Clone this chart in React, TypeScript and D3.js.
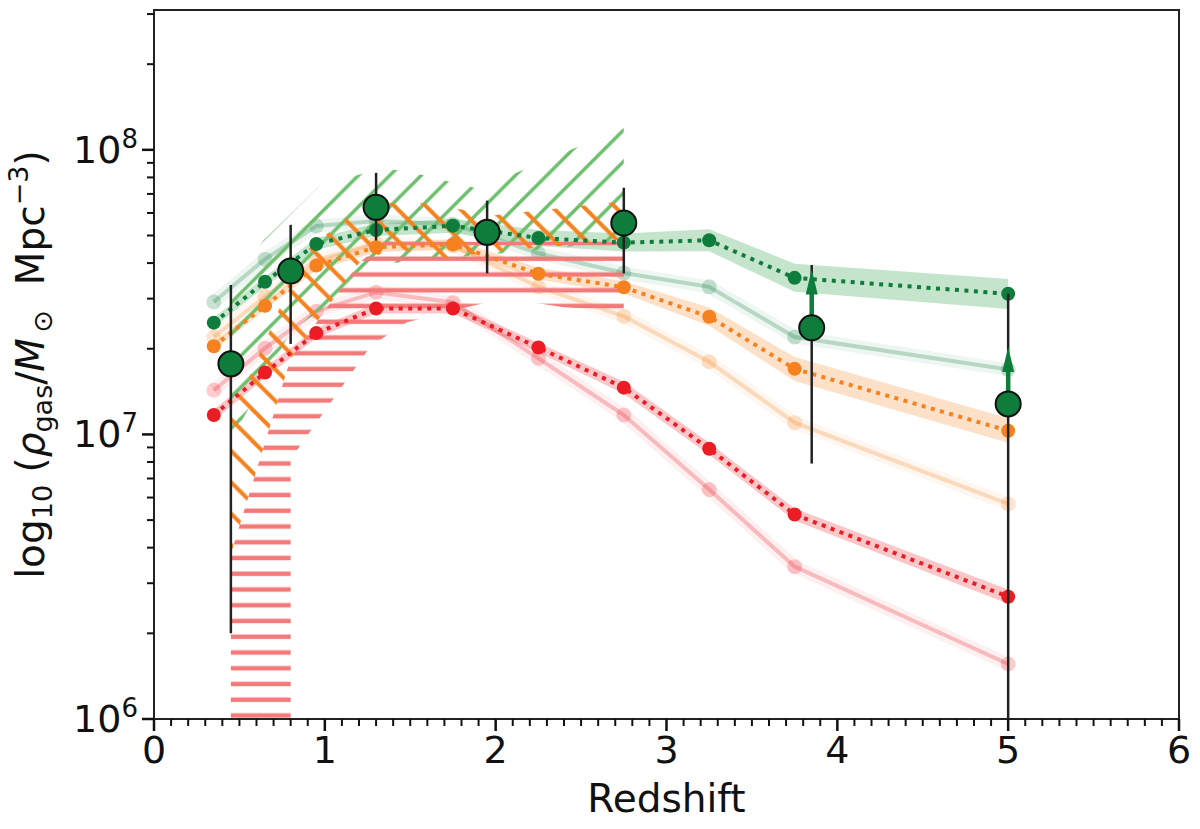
import * as d3 from "d3"

// redshift grid of the model runs
const zModel = [0.35, 0.65, 0.95, 1.3, 1.75, 2.25, 2.75, 3.25, 3.75, 5.0]

// main (dotted) model series with their shaded bands
const rhoGreen = [2.47e7, 3.44e7, 4.67e7, 5.23e7, 5.41e7, 4.9e7, 4.72e7, 4.81e7, 3.55e7, 3.12e7]
const rhoGreenHi = [2.57e7, 3.58e7, 4.9e7, 5.5e7, 5.72e7, 5.23e7, 5.08e7, 5.26e7, 3.98e7, 3.52e7]
const rhoGreenLo = [2.37e7, 3.3e7, 4.45e7, 4.98e7, 5.11e7, 4.59e7, 4.39e7, 4.4e7, 3.17e7, 2.76e7]

const rhoOrange = [2.04e7, 2.83e7, 3.92e7, 4.55e7, 4.65e7, 3.67e7, 3.29e7, 2.59e7, 1.7e7, 1.03e7]
const rhoOrangeHi = [2.11e7, 2.92e7, 4.08e7, 4.74e7, 4.84e7, 3.85e7, 3.45e7, 2.79e7, 1.87e7, 1.14e7]
const rhoOrangeLo = [1.97e7, 2.74e7, 3.77e7, 4.37e7, 4.47e7, 3.5e7, 3.13e7, 2.41e7, 1.54e7, 0.935e7]

const rhoRed = [1.17e7, 1.65e7, 2.27e7, 2.77e7, 2.77e7, 2.02e7, 1.46e7, 8.9e6, 5.23e6, 2.69e6]
const rhoRedHi = [1.22e7, 1.72e7, 2.36e7, 2.88e7, 2.88e7, 2.1e7, 1.53e7, 9.35e6, 5.49e6, 2.85e6]
const rhoRedLo = [1.12e7, 1.58e7, 2.18e7, 2.66e7, 2.66e7, 1.94e7, 1.39e7, 8.48e6, 4.98e6, 2.54e6]

// faint (solid) model series
const rhoGreenFaint = [2.92e7, 4.13e7, 5.4e7, 5.62e7, 5.48e7, 4.33e7, 3.69e7, 3.3e7, 2.2e7, 1.69e7]
const rhoOrangeFaint = [2.2e7, 3.05e7, 4.1e7, 4.7e7, 4.6e7, 3.3e7, 2.6e7, 1.8e7, 1.1e7, 5.7e6]
const rhoRedFaint = [1.43e7, 2.01e7, 2.71e7, 3.16e7, 2.91e7, 1.85e7, 1.17e7, 6.4e6, 3.43e6, 1.56e6]

// observational points
const zObs = [0.45, 0.8, 1.3, 1.95, 2.75, 3.85, 5.0]
const rhoObs = [1.77e7, 3.75e7, 6.28e7, 5.13e7, 5.53e7, 2.37e7, 1.28e7]
const rhoObsHi = [3.35e7, 5.45e7, 8.3e7, 6.63e7, 7.36e7, 3.94e7, 3.12e7]
const rhoObsLo = [2.0e6, 2.08e7, 4.8e7, 3.68e7, 3.68e7, 7.9e6, 5e5]

// lower-limit arrows
const zLimit = [3.85, 5.0]
const rhoLimitFrom = [2.37e7, 1.28e7]
const rhoLimitTo = [3.8e7, 2.03e7]

// hatched constraint regions
const greenUpperZ = [0.45, 0.64, 0.97, 1.3, 1.45, 1.9, 2.44, 2.75]
const greenUpperRho = [3.3e7, 4.8e7, 7.5e7, 8.5e7, 8.5e7, 7.3e7, 1.0e8, 1.19e8]
const greenLowerZ = [0.45, 0.8, 1.3, 1.4, 2.25, 2.75]
const greenLowerRho = [9.5e6, 2.3e7, 3.8e7, 4.0e7, 4.45e7, 4.8e7]

const orangeUpperZ = [0.45, 0.56, 0.73, 0.91, 1.13, 1.3, 1.56, 2.0, 2.75]
const orangeUpperRho = [1.2e7, 1.6e7, 2.73e7, 4.52e7, 5.77e7, 6.5e7, 6.5e7, 5.9e7, 6.6e7]
const orangeLowerZ = [0.45, 0.8, 1.05, 1.2, 1.4, 1.72, 2.0, 2.35, 2.75]
const orangeLowerRho = [3.8e6, 1.85e7, 3.0e7, 4.0e7, 4.5e7, 4.17e7, 4.4e7, 4.57e7, 4.85e7]

const redUpperZ = [0.45, 0.8, 1.05, 1.2, 1.35, 2.75]
const redUpperRho = [3.8e6, 1.85e7, 3.0e7, 4.0e7, 4.75e7, 4.75e7]
const redLowerZ = [0.45, 0.8, 0.8, 1.27, 1.48, 1.83, 2.05, 2.4, 2.75]
const redLowerRho = [3e5, 3e5, 8.2e6, 2.05e7, 2.48e7, 2.8e7, 3.01e7, 2.8e7, 2.72e7]

const xTickLabels = ["0", "1", "2", "3", "4", "5", "6"]

const GREEN = "#0e7c3a"
const ORANGE = "#f5821f"
const RED = "#ec1c24"
const FONT = "DejaVu Sans, sans-serif"

const W = 1200
const H = 829
const left = 154
const right = 1179
const top = 10
const bottom = 719

export default function App() {
  const x = d3.scaleLinear().domain([0, 6]).range([left, right])
  const y = d3.scaleLog().domain([1e6, 3.1e8]).range([bottom, top])

  const line = d3
    .line<[number, number]>()
    .x((d) => x(d[0]))
    .y((d) => y(d[1]))

  const band = (lo: number[], hi: number[]) =>
    d3
      .area<number>()
      .x((d) => x(d))
      .y0((_, i) => y(lo[i]))
      .y1((_, i) => y(hi[i]))(zModel) as string

  const region = (uz: number[], ur: number[], lz: number[], lr: number[]) => {
    const pts: [number, number][] = uz.map((z, i) => [z, ur[i]] as [number, number])
    const low: [number, number][] = lz.map((z, i) => [z, lr[i]] as [number, number]).reverse()
    return line(pts.concat(low)) + "Z"
  }

  const pairs = (vals: number[]) => zModel.map((z, i) => [z, vals[i]] as [number, number])

  const yTicks = y.ticks()
  const yMajor = yTicks.filter((t) => Math.abs(Math.log10(t) - Math.round(Math.log10(t))) < 1e-9)
  const yMinor = yTicks.filter((t) => !yMajor.includes(t))
  const xMajor = x.ticks(6)
  const xMinor = x.ticks(60).filter((t) => Math.abs(t - Math.round(t)) > 1e-9)

  const P = 31.4
  const PR = 15.75

  const faint = [
    { vals: rhoGreenFaint, color: GREEN },
    { vals: rhoOrangeFaint, color: ORANGE },
    { vals: rhoRedFaint, color: RED },
  ]
  const main = [
    { vals: rhoGreen, lo: rhoGreenLo, hi: rhoGreenHi, color: GREEN, bandColor: "#3aa655", op: 0.3 },
    { vals: rhoOrange, lo: rhoOrangeLo, hi: rhoOrangeHi, color: ORANGE, bandColor: ORANGE, op: 0.25 },
    { vals: rhoRed, lo: rhoRedLo, hi: rhoRedHi, color: RED, bandColor: RED, op: 0.25 },
  ]

  return (
    <svg
      width={W}
      height={H}
      style={{ position: "absolute", left: 0, top: 0, background: "#fff" }}
      fontFamily={FONT}
    >
      <defs>
        <clipPath id="plotArea">
          <rect x={left} y={top} width={right - left} height={bottom - top} />
        </clipPath>
        <pattern id="hatchGreen" patternUnits="userSpaceOnUse" width={P} height={P}>
          <path
            d={`M0,${P} L${P},0 M-3,3 L3,-3 M${P - 3},${P + 3} L${P + 3},${P - 3}`}
            stroke="#6dbf6d"
            strokeWidth={3.5}
          />
        </pattern>
        <pattern id="hatchOrange" patternUnits="userSpaceOnUse" width={P} height={P}>
          <path
            d={`M0,0 L${P},${P} M${P - 3},-3 L${P + 3},3 M-3,${P - 3} L3,${P + 3}`}
            stroke={ORANGE}
            strokeWidth={4}
          />
        </pattern>
        <pattern id="hatchRed" patternUnits="userSpaceOnUse" width={PR} height={PR}>
          <path d={`M0,6.75 L${PR},6.75`} stroke="#f27a7a" strokeWidth={4.5} />
        </pattern>
      </defs>

      <g clipPath="url(#plotArea)">
        {/* faint model runs */}
        {faint.map((s, k) => (
          <g key={"f" + k}>
            <path d={line(pairs(s.vals)) as string} fill="none" stroke={s.color} strokeOpacity={0.07} strokeWidth={13} />
            <path d={line(pairs(s.vals)) as string} fill="none" stroke={s.color} strokeOpacity={0.25} strokeWidth={4} />
            {zModel.map((z, i) => (
              <circle key={i} cx={x(z)} cy={y(s.vals[i])} r={7.5} fill={s.color} fillOpacity={0.22} />
            ))}
          </g>
        ))}

        {/* bands of the main runs */}
        {main.map((s, k) => (
          <path key={"b" + k} d={band(s.lo, s.hi)} fill={s.bandColor} fillOpacity={s.op} />
        ))}

        {/* hatched regions */}
        <path d={region(greenUpperZ, greenUpperRho, greenLowerZ, greenLowerRho)} fill="url(#hatchGreen)" />
        <path d={region(redUpperZ, redUpperRho, redLowerZ, redLowerRho)} fill="url(#hatchRed)" />
        <path d={region(orangeUpperZ, orangeUpperRho, orangeLowerZ, orangeLowerRho)} fill="url(#hatchOrange)" />

        {/* main dotted runs */}
        {main.map((s, k) => (
          <g key={"m" + k}>
            <path
              d={line(pairs(s.vals)) as string}
              fill="none"
              stroke={s.color}
              strokeWidth={4}
              strokeDasharray="4 5.5"
            />
            {zModel.map((z, i) => (
              <circle key={i} cx={x(z)} cy={y(s.vals[i])} r={7} fill={s.color} />
            ))}
          </g>
        ))}

        {/* observations */}
        {zObs.map((z, i) => (
          <line
            key={"e" + i}
            x1={x(z)}
            x2={x(z)}
            y1={y(rhoObsLo[i])}
            y2={y(rhoObsHi[i])}
            stroke="#222"
            strokeWidth={2.5}
          />
        ))}
        {zLimit.map((z, i) => {
          const y0 = y(rhoLimitFrom[i])
          const y1 = y(rhoLimitTo[i])
          const cx = x(z)
          return (
            <g key={"a" + i}>
              <line x1={cx} x2={cx} y1={y0} y2={y1 + 22} stroke={GREEN} strokeWidth={4.5} />
              <path d={`M${cx},${y1} L${cx - 6},${y1 + 25} L${cx + 6},${y1 + 25} Z`} fill={GREEN} />
            </g>
          )
        })}
        {zObs.map((z, i) => (
          <circle key={"o" + i} cx={x(z)} cy={y(rhoObs[i])} r={12.5} fill={GREEN} stroke="#111" strokeWidth={2} />
        ))}
      </g>

      {/* frame */}
      <rect x={left} y={top} width={right - left} height={bottom - top} fill="none" stroke="#222" strokeWidth={2} />

      {/* x axis */}
      {xMinor.map((t) => (
        <line key={"xm" + t} x1={x(t)} x2={x(t)} y1={bottom} y2={bottom + 7} stroke="#111" strokeWidth={2} />
      ))}
      {xMajor.map((t, i) => (
        <g key={"xM" + t}>
          <line x1={x(t)} x2={x(t)} y1={bottom} y2={bottom + 12} stroke="#111" strokeWidth={2.5} />
          <text x={x(t)} y={763} textAnchor="middle" fontSize={38} fill="#111">
            {xTickLabels[i]}
          </text>
        </g>
      ))}
      <text x={(left + right) / 2} y={812} textAnchor="middle" fontSize={39} fill="#111">
        Redshift
      </text>

      {/* y axis */}
      {yMajor.map((t) => (
        <g key={"yM" + t}>
          <line x1={left - 12} x2={left} y1={y(t)} y2={y(t)} stroke="#111" strokeWidth={2.5} />
          <text x={138} y={y(t) + 13} textAnchor="end" fontSize={38} fill="#111">
            10
            <tspan dy={-15} fontSize={26}>
              {Math.round(Math.log10(t))}
            </tspan>
          </text>
        </g>
      ))}
      {yMinor.map((t) => (
        <line key={"ym" + t} x1={left - 7} x2={left} y1={y(t)} y2={y(t)} stroke="#111" strokeWidth={2} />
      ))}
      <text transform={`translate(44,${(top + bottom) / 2}) rotate(-90)`} textAnchor="middle" fontSize={39} fill="#111">
        {"log"}
        <tspan dy={8} fontSize={27}>
          {"10"}
        </tspan>
        <tspan dy={-8}>{"\u00a0("}</tspan>
        <tspan fontStyle="italic">{"ρ"}</tspan>
        <tspan dy={8} fontSize={27}>
          {"gas"}
        </tspan>
        <tspan dy={-8}>{"/"}</tspan>
        <tspan fontStyle="italic">{"M"}</tspan>
        <tspan dy={8} fontSize={27}>
          {"\u2009⊙"}
        </tspan>
        <tspan dy={-8}>{"\u00a0\u00a0Mpc"}</tspan>
        <tspan dy={-16} fontSize={27}>
          {"−3"}
        </tspan>
        <tspan dy={16}>{")"}</tspan>
      </text>
    </svg>
  )
}
